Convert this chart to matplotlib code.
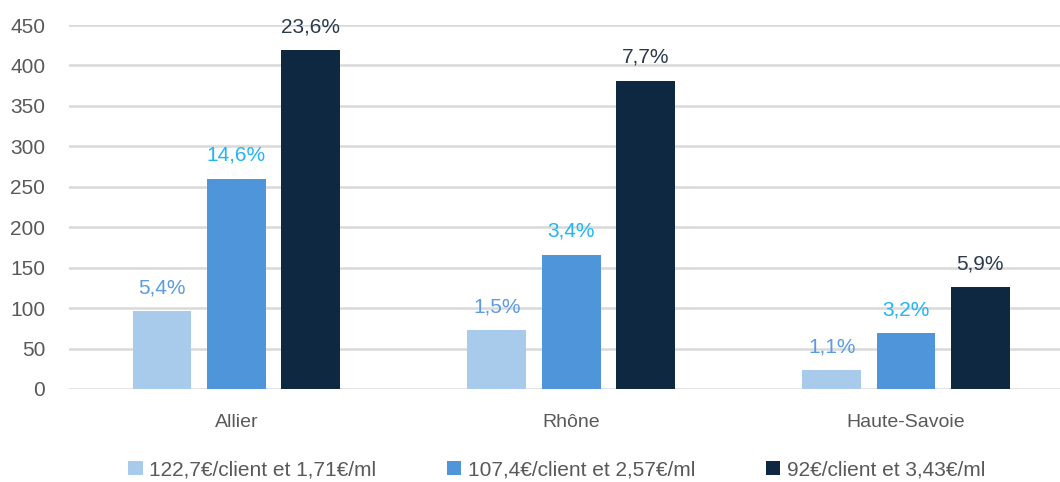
import numpy as np
import matplotlib
matplotlib.use("Agg")
import matplotlib.pyplot as plt

plt.rcParams['font.family'] = ['Liberation Sans', 'DejaVu Sans']

departements = ["Allier", "Rhône", "Haute-Savoie"]
series_noms = ["122,7€/client et 1,71€/ml",
               "107,4€/client et 2,57€/ml",
               "92€/client et 3,43€/ml"]
valeurs_1 = [96, 73, 23.5]
valeurs_2 = [260, 166, 69]
valeurs_3 = [419, 381, 126]
etiquettes_1 = ["5,4%", "1,5%", "1,1%"]
etiquettes_2 = ["14,6%", "3,4%", "3,2%"]
etiquettes_3 = ["23,6%", "7,7%", "5,9%"]

couleurs = ["#A9CBEB", "#4F95D9", "#0F2841"]
couleurs_txt = ["#5B9BDF", "#1FB6F2", "#2B3A4E"]

fig = plt.figure(figsize=(10.6, 4.82), dpi=100)
ax = fig.add_axes([0.065, 0.193, 0.935, 0.755])

x = np.arange(len(departements))
largeur = 0.176
pas = 0.222

for i, (vals, etiq) in enumerate(zip([valeurs_1, valeurs_2, valeurs_3],
                                     [etiquettes_1, etiquettes_2, etiquettes_3])):
    pos = x + (i - 1) * pas
    ax.bar(pos, vals, width=largeur, color=couleurs[i], label=series_noms[i], zorder=3)
    for px, v, t in zip(pos, vals, etiq):
        ax.annotate(t, (px, v), xytext=(0, 10), textcoords='offset points',
                    ha='center', va='bottom', fontsize=15, color=couleurs_txt[i])

ax.set_ylim(0, 450)
ax.set_xlim(-0.5, 2.46)
ax.set_yticks(np.arange(0, 451, 50))
ax.set_xticks(x)
ax.set_xticklabels(departements, fontsize=14, color="#595959")
ax.tick_params(axis='y', labelsize=15, labelcolor="#595959", length=0, pad=17)
ax.tick_params(axis='x', length=0, pad=18)
ax.grid(axis='y', color="#D9D9D9", linewidth=1.8, zorder=0)
for s in ax.spines.values():
    s.set_visible(False)

leg = fig.legend(loc='center', bbox_to_anchor=(0.525, 0.025), ncol=3, frameon=False,
                 fontsize=15, handlelength=0.7, handleheight=0.7, columnspacing=3.4,
                 handletextpad=0.3)
for t in leg.get_texts():
    t.set_color("#595959")

fig.savefig("out.png", dpi=100)
